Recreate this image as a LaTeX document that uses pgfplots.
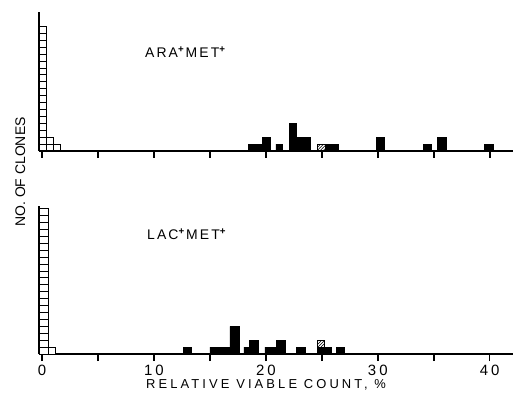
\documentclass[border=0pt]{standalone}
\usepackage{pgfplots}
\pgfplotsset{compat=1.18}
\usepackage{fontspec}
\setmainfont{Liberation Sans}
\newfontfamily\panelfont[LetterSpace=15]{Liberation Sans}
\newfontfamily\xlabfont[LetterSpace=24]{Liberation Sans}
\newfontfamily\tickfont[LetterSpace=20]{Liberation Sans}
\usetikzlibrary{patterns}
\begin{document}
\begin{tikzpicture}[x=1bp,y=1bp]
\useasboundingbox (0bp,0bp) rectangle (514bp,399bp);
\pgfplotsset{
  panel/.style={
    scale only axis, width=474bp,
    xmin=-0.25, xmax=42.1, ymin=0,
    axis x line=bottom, axis y line=left,
    axis line style={line width=1.8pt, -},
    xtick={0,5,...,40}, ytick=\empty,
    tick align=outside, major tick length=7bp,
    every tick/.style={line width=1.6pt, black},
    clip=false,
  }
}
% ---------- top panel ----------
\begin{axis}[panel, at={(39.2bp,248bp)}, anchor=south west, height=139bp, ymax=20.1,
  xticklabels={}]
% white stacked squares
\addplot[fill=white, draw=black, line width=1pt] coordinates {(-0.25,0)(-0.25,18)(0.36,18)(0.36,0)} \closedcycle;
\addplot[draw=black, line width=1pt] coordinates {(-0.25,1)(0.36,1)(0.36,2)(-0.25,2)(-0.25,3)(0.36,3)(0.36,4)(-0.25,4)(-0.25,5)(0.36,5)(0.36,6)(-0.25,6)(-0.25,7)(0.36,7)(0.36,8)(-0.25,8)(-0.25,9)(0.36,9)(0.36,10)(-0.25,10)(-0.25,11)(0.36,11)(0.36,12)(-0.25,12)(-0.25,13)(0.36,13)(0.36,14)(-0.25,14)(-0.25,15)(0.36,15)(0.36,16)(-0.25,16)(-0.25,17)(0.36,17)};
\addplot[fill=white, draw=black, line width=1pt] coordinates {(0.36,0)(0.36,2)(1.0,2)(1.0,0)} \closedcycle;
\addplot[draw=black, line width=1pt] coordinates {(0.36,1)(1.0,1)};
\addplot[fill=white, draw=black, line width=1pt] coordinates {(1.0,0)(1.0,1)(1.67,1)(1.67,0)} \closedcycle;
% black bars
\addplot[fill=black, draw=black, line width=0.6pt] coordinates {(18.42,0)(18.42,1)(19.71,1)(19.71,2)(20.36,2)(20.36,0)(20.89,0)(20.89,1)(21.49,1)(21.49,0)(22.08,0)(22.08,4)(22.68,4)(22.68,2)(23.93,2)(23.93,0)(25.36,0)(25.36,1)(26.46,1)(26.46,0)(29.9,0)(29.9,2)(30.6,2)(30.6,0)(34.1,0)(34.1,1)(34.8,1)(34.8,0)(35.3,0)(35.3,2)(36.1,2)(36.1,0)(39.5,0)(39.5,1)(40.3,1)(40.3,0)} \closedcycle;
% hatched bar
\addplot[pattern=north east lines, draw=black, line width=1pt] coordinates {(24.6,0)(24.6,1)(25.36,1)(25.36,0)} \closedcycle;
\end{axis}
% ---------- bottom panel ----------
\begin{axis}[panel, at={(39.2bp,45bp)}, anchor=south west, height=148bp, ymax=21.4,
  xticklabels={0,,10,,20,,30,,40},
  xticklabel style={font=\tickfont\fontsize{15}{15}\selectfont, yshift=-1bp}]
\addplot[fill=white, draw=black, line width=1pt] coordinates {(-0.25,0)(-0.25,21)(0.56,21)(0.56,0)} \closedcycle;
\addplot[draw=black, line width=1pt] coordinates {(-0.25,1)(0.56,1)(0.56,2)(-0.25,2)(-0.25,3)(0.56,3)(0.56,4)(-0.25,4)(-0.25,5)(0.56,5)(0.56,6)(-0.25,6)(-0.25,7)(0.56,7)(0.56,8)(-0.25,8)(-0.25,9)(0.56,9)(0.56,10)(-0.25,10)(-0.25,11)(0.56,11)(0.56,12)(-0.25,12)(-0.25,13)(0.56,13)(0.56,14)(-0.25,14)(-0.25,15)(0.56,15)(0.56,16)(-0.25,16)(-0.25,17)(0.56,17)(0.56,18)(-0.25,18)(-0.25,19)(0.56,19)(0.56,20)(-0.25,20)};
\addplot[fill=white, draw=black, line width=1pt] coordinates {(0.56,0)(0.56,1)(1.25,1)(1.25,0)} \closedcycle;
% black bars
\addplot[fill=black, draw=black, line width=0.6pt] coordinates {(12.62,0)(12.62,1)(13.37,1)(13.37,0)(15.0,0)(15.0,1)(16.79,1)(16.79,4)(17.62,4)(17.62,0)(18.04,0)(18.04,1)(18.51,1)(18.51,2)(19.31,2)(19.31,0)(19.91,0)(19.91,1)(20.95,1)(20.95,2)(21.7,2)(21.7,0)(22.74,0)(22.74,1)(23.48,1)(23.48,0)(24.6,0)(24.6,1)(25.27,1)(25.27,1)(25.86,1)(25.86,0)(26.31,0)(26.31,1)(27.05,1)(27.05,0)} \closedcycle;
% hatched square on top of black
\addplot[pattern=north east lines, draw=black, line width=1pt] coordinates {(24.6,1)(24.6,2)(25.27,2)(25.27,1)} -- cycle;
\end{axis}
% ---------- labels ----------
\node[anchor=base west, inner sep=0pt] at (145bp,341bp) {\panelfont\fontsize{14}{14}\selectfont ARA\textsuperscript{\textbf{+}}MET\textsuperscript{\textbf{+}}};
\node[anchor=base west, inner sep=0pt] at (147bp,159bp) {\panelfont\fontsize{14}{14}\selectfont LAC\textsuperscript{\textbf{+}}MET\textsuperscript{\textbf{+}}};
\node[anchor=base, inner sep=0pt] at (266bp,11bp) {\xlabfont\fontsize{13}{13}\selectfont RELATIVE VIABLE COUNT, \%};
\node[anchor=base, rotate=90, inner sep=0pt] at (25bp,227bp) {\fontsize{14}{14}\selectfont NO. OF CLONES};
\end{tikzpicture}
\end{document}
